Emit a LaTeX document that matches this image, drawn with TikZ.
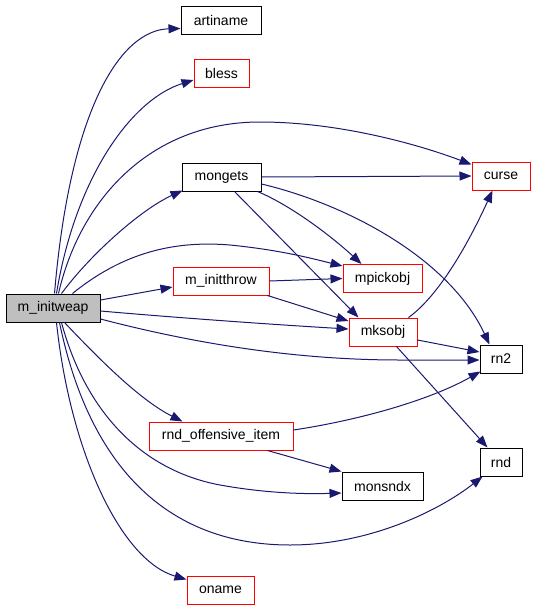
\documentclass[tikz,border=0pt]{standalone}
\usepackage{fontspec}
\setmainfont{Liberation Sans}
\usetikzlibrary{arrows.meta,calc}
\definecolor{edgec}{HTML}{191970}
\begin{document}
\begin{tikzpicture}[x=1pt,y=-1pt,
  box/.style={draw=black,line width=1pt,fill=white,minimum height=28pt,inner sep=0pt,font=\fontsize{14}{16}\selectfont},
  redbox/.style={box,draw=red},
  edge/.style={draw=edgec,line width=1pt,-{Triangle[length=12pt,width=9pt]}}]
\useasboundingbox (0,0) rectangle (536,611);
% nodes
\node[box,fill=gray!50,minimum width=94pt] (w) at (53,308) {m\_initweap};
\node[box,minimum width=80pt] (artiname) at (221,20) {artiname};
\node[redbox,minimum width=55pt] (bless) at (221.5,73) {bless};
\node[box,minimum width=79pt] (mongets) at (221.5,177) {mongets};
\node[redbox,minimum width=96pt] (minitthrow) at (221,281) {m\_initthrow};
\node[redbox,minimum width=144pt] (rndoff) at (221,436) {rnd\_offensive\_item};
\node[redbox,minimum width=67pt] (oname) at (220.5,590) {oname};
\node[redbox,minimum width=58pt] (curse) at (501,176) {curse};
\node[redbox,minimum width=79pt] (mpickobj) at (382.5,278.5) {mpickobj};
\node[redbox,minimum width=68pt] (mksobj) at (383,332) {mksobj};
\node[box,minimum width=81pt] (monsndx) at (382.5,486) {monsndx};
\node[box,minimum width=42pt] (rn2) at (501,359) {rn2};
\node[box,minimum width=42pt] (rnd) at (501,462) {rnd};
% edges from m_initweap
\draw[edge] ($(w.north west)+(49,0)$) .. controls (70,110) and (120,30) .. ($(artiname.south west)+(0,-6)$);
\draw[edge] ($(w.north west)+(51,0)$) .. controls (75,180) and (130,100) .. ($(bless.west)+(0,7)$);
\draw[edge] ($(w.north west)+(53,0)$) .. controls (80,200) and (150,122) .. (260,122) .. controls (340,122) and (420,145) .. ($(curse.north west)+(0,3)$);
\draw[edge] ($(w.north west)+(56,0)$) .. controls (90,255) and (140,210) .. ($(mongets.south west)+(1,-1)$);
\draw[edge] ($(w.north west)+(67,0)$) .. controls (120,255) and (170,240) .. (230,245) .. controls (280,250) and (310,258) .. ($(mpickobj.north west)+(0,2)$);
\draw[edge] ($(w.east)+(0,-8)$) -- ($(minitthrow.west)+(0,6)$);
\draw[edge] ($(w.east)+(0,3)$) .. controls (180,318) and (280,325) .. ($(mksobj.west)+(0,-3)$);
\draw[edge] ($(w.east)+(0,11)$) .. controls (200,345) and (300,360) .. (400,360) -- ($(rn2.west)+(0,1)$);
\draw[edge] ($(w.south west)+(59,0)$) .. controls (100,360) and (140,400) .. ($(rndoff.north west)+(34,0)$);
\draw[edge] ($(w.south west)+(56,0)$) .. controls (85,410) and (140,470) .. (220,485) .. controls (270,494) and (310,494) .. ($(monsndx.west)+(0,7)$);
\draw[edge] ($(w.south west)+(54,0)$) .. controls (90,470) and (170,545) .. (290,545) .. controls (370,545) and (440,510) .. ($(rnd.south west)+(3,0)$);
\draw[edge] ($(w.south west)+(51,0)$) .. controls (70,450) and (120,560) .. ($(oname.north west)+(0,4)$);
% edges from mongets
\draw[edge] (mongets.east) -- (curse.west);
\draw[edge] ($(mongets.east)+(0,7)$) .. controls (350,205) and (450,260) .. ($(rn2.north west)+(10,0)$);
\draw[edge] ($(mongets.south east)+(-4,0)$) .. controls (290,205) and (330,235) .. ($(mpickobj.north west)+(19,0)$);
\draw[edge] ($(mongets.south west)+(53,0)$) -- ($(mksobj.north west)+(10,0)$);
% edges from m_initthrow
\draw[edge] (minitthrow.east) -- (mpickobj.west);
\draw[edge] ($(minitthrow.south east)+(-2,0)$) -- ($(mksobj.west)+(0,-11)$);
% edges from mksobj
\draw[edge] ($(mksobj.north east)+(-9,0)$) .. controls (440,295) and (470,240) .. ($(curse.south west)+(21,0)$);
\draw[edge] ($(mksobj.east)+(0,8)$) -- ($(rn2.west)+(0,-7)$);
\draw[edge] ($(mksobj.south west)+(48,0)$) -- ($(rnd.north west)+(8,0)$);
% edges from rnd_offensive_item
\draw[edge] ($(rndoff.east)+(0,-6)$) .. controls (360,420) and (430,400) .. ($(rn2.south west)+(1,-2)$);
\draw[edge] ($(rndoff.south east)+(-26,0)$) -- (monsndx.north west);
\end{tikzpicture}
\end{document}
